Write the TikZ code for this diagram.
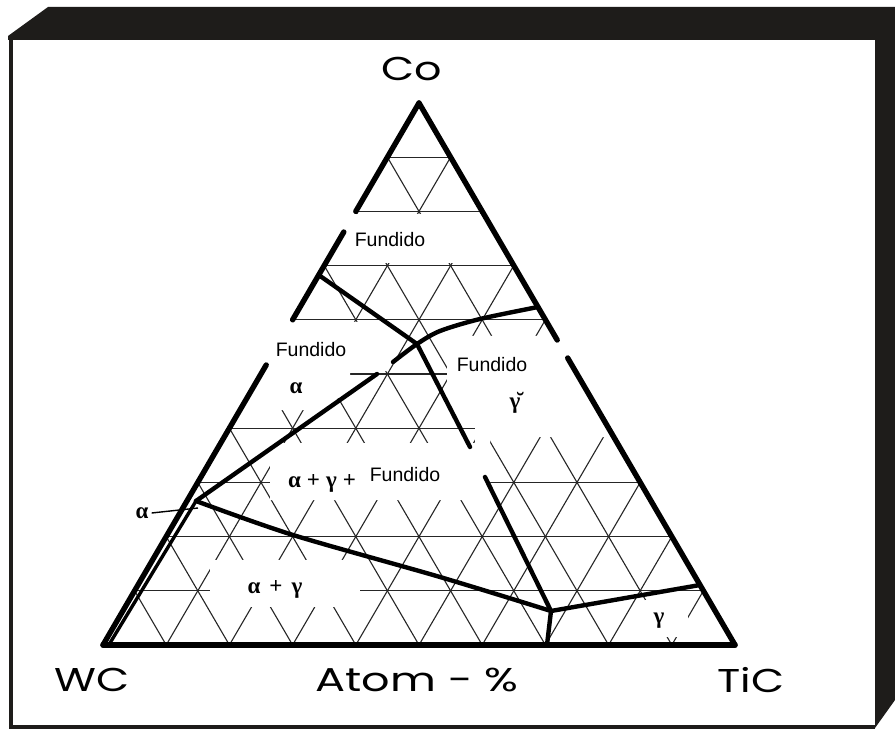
\documentclass[tikz,border=0pt]{standalone}
\usepackage{fontspec}
\setmainfont{Liberation Sans}
\newfontfamily\geo{Poppins}
\newfontfamily\grk{Liberation Serif}
\definecolor{framecol}{HTML}{1E1C1A}
\begin{document}
\begin{tikzpicture}[x=1pt,y=-1pt,
  gridline/.style={line width=1.1pt, black!85},
  edge/.style={line width=5.4pt, line cap=round, line join=round},
  phase/.style={line width=4.4pt, line cap=round, line join=round},
  zone/.style={fill=white, draw=none},
  ax/.style={font=\geo\fontsize{33}{33}\selectfont, inner sep=0pt},
  fund/.style={font=\fontsize{19.5}{19.5}\selectfont, inner sep=0pt},
  greek/.style={inner sep=0pt, font=\grk\bfseries\fontsize{23}{23}\selectfont}]
\useasboundingbox (0,0) rectangle (895,730);
\fill[white] (0,0) rectangle (895,730);
% frame
\fill[framecol] (8,36) -- (48,7) -- (895,7) -- (895,700) -- (875,728) -- (875,40) -- (8,40) -- cycle;
\draw[framecol, line width=4pt] (11,38) -- (11,727) -- (875,727);
% lattice points
\foreach \j in {0,...,10}{
  \foreach \i in {0,...,\j}{
    \coordinate (p\j-\i) at ({419+(\i-\j/2)*63.2},{103+\j*54.2});
  }
}
% grid
\foreach \j in {1,...,9} \draw[gridline] (p\j-0) -- (p\j-\j);
\foreach \i in {1,...,9} \draw[gridline] (p\i-\i) -- (p10-\i);
\foreach \d in {1,...,9}{
  \pgfmathtruncatemacro\e{10-\d}
  \draw[gridline] (p\d-0) -- (p10-\e);
}
% blank zones behind labels
\fill[zone] (300,214) rectangle (540,263);
\fill[zone] (170,322) -- (388,322) -- (388,371) -- (350,371) -- (350,398) -- (335,398) -- (335,410) -- (170,410) -- cycle;
\fill[zone] (447,336) -- (566,336) -- (574,356) -- (625,356) -- (625,437) -- (490,437) -- (490,500) -- (270,500) -- (270,443) -- (475,443) -- (475,426) -- (447,426) -- cycle;
\fill[zone] (210,560) rectangle (360,607);
\fill[zone] (645,600) rectangle (688,637);
% edge coordinates
\coordinate (le1) at (343.8,232);
\coordinate (le2) at (266.2,365);
\coordinate (re1) at (557.2,340);
\coordinate (re2) at (567.7,358);
% triangle edges
\draw[edge] (p0-0) -- (p2-0);
\draw[edge] (le1) -- (p4-0);
\draw[edge] (le2) -- (p10-0);
\draw[edge] (p0-0) -- (re1);
\draw[edge] (re2) -- (p10-10);
\draw[edge] (p10-0) -- (p10-10);
% phase boundaries
\coordinate (a1) at (318.7,275);
\coordinate (k1) at (417,344);
\coordinate (a2) at (470,447);
\coordinate (a3) at (485,477);
\coordinate (jn) at (551,611);
\coordinate (jb) at (547,645);
\coordinate (jr) at (700,585);
\coordinate (jl) at (196,501);
\coordinate (wb) at (110,643);
\coordinate (c0) at (538,307);
\coordinate (c1) at (393,362);
\coordinate (c2) at (377,374);
\draw[phase] (a1) -- (k1) -- (a2);
\draw[phase] (a3) -- (jn) -- (jb);
\draw[phase] (jn) -- (jr);
\draw[phase] plot[smooth] coordinates {(jl) (293,535) (440,577) (jn)};
\draw[phase] plot[smooth] coordinates {(c0) (480,319) (440,331) (k1) (c1)};
\draw[phase] (c2) -- (jl);
\draw[phase, line width=3.4pt] (wb) -- (jl);
% alpha leader
\coordinate (ld) at (198,508);
\node[greek] (al0) at (142,513) {α};
\draw[line width=1.4pt] (al0.east) ++(3,0) -- (ld);
% labels
\node[ax] (co) at (412,69) {\scalebox{1.3}[1]{Co}};
\node[ax] (wc) at (92,680) {\scalebox{1.3}[1]{WC}};
\node[ax] (atom) at (417,680) {\scalebox{1.35}[1]{Atom - \%}};
\node[ax] (tic) at (751,680) {\scalebox{1.3}[1]{TiC}};
\node[fund] (f1) at (390,240) {Fundido};
\node[fund] (f2) at (311,350) {Fundido};
\node[fund] (f3) at (492,365) {Fundido};
\node[fund] (f4) at (405,475) {Fundido};
\node[greek] (al1) at (296,388) {α};
\node[greek] (gt) at (515,403) {γ̆};
\node[greek] (agf) at (322,483) {α\hspace{6pt}+\hspace{6pt}γ\hspace{6pt}+};
\node[greek] (ag) at (275,589) {α\hspace{9pt}+\hspace{9pt}γ};
\node[greek] (g2) at (659,621) {γ};
\end{tikzpicture}
\end{document}
